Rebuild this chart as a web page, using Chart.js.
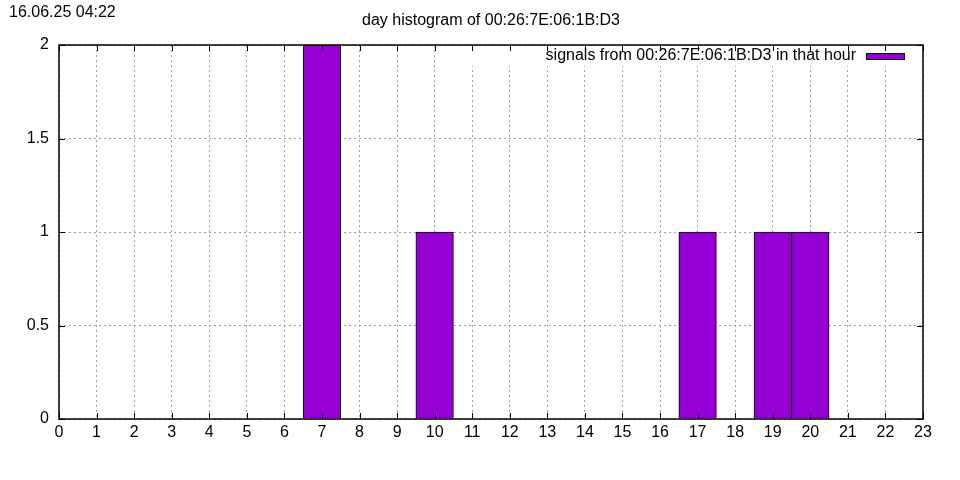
<!DOCTYPE html>
<html>
<head>
<meta charset="utf-8">
<script src="https://cdn.jsdelivr.net/npm/chart.js@4"></script>
<style>
  html, body { margin: 0; padding: 0; background: #fff; }
  #wrap { width: 960px; height: 480px; }
</style>
</head>
<body>
<div id="wrap"><canvas id="grafico" width="960" height="480"></canvas></div>
<script>
const horas = [7, 10, 17, 19, 20];
const senales = [2, 1, 1, 1, 1];
const ticksX = [0, 1, 2, 3, 4, 5, 6, 7, 8, 9, 10, 11, 12, 13, 14, 15, 16, 17, 18, 19, 20, 21, 22, 23];
const ticksY = [0, 0.5, 1, 1.5, 2];
const titulo = 'day histogram of 00:26:7E:06:1B:D3';
const fechaHora = '16.06.25 04:22';
const leyenda = 'signals from 00:26:7E:06:1B:D3 in that hour';
const violeta = '#9400d3';

const fuente = 'Liberation Sans, Arial, sans-serif';

// textos, leyenda, marcas interiores y borde estilo gnuplot
const marcoGnuplot = {
  id: 'marcoGnuplot',
  beforeDatasetsDraw(chart) {
    const ctx = chart.ctx;
    const a = chart.chartArea;
    ctx.save();
    ctx.fillStyle = '#fff';
    ctx.fillRect(462, a.top + 1, a.right - 462 - 1, 20);
    ctx.restore();
  },
  afterDraw(chart) {
    const ctx = chart.ctx;
    const a = chart.chartArea;
    const sx = chart.scales.x;
    const sy = chart.scales.y;
    ctx.save();
    ctx.fillStyle = '#000';
    ctx.font = '16px ' + fuente;
    ctx.textAlign = 'left';
    ctx.textBaseline = 'middle';
    ctx.fillText(fechaHora, 9, 13);
    ctx.textAlign = 'center';
    ctx.fillText(titulo, 491, 21);

    // leyenda
    ctx.textAlign = 'right';
    ctx.fillText(leyenda, 856, 56);
    ctx.fillStyle = violeta;
    ctx.fillRect(866, 53, 39, 7);
    ctx.strokeStyle = '#000';
    ctx.lineWidth = 1;
    ctx.strokeRect(866.5, 53.5, 38, 6);

    // marcas
    ctx.beginPath();
    ticksX.forEach(v => {
      const px = Math.round(sx.getPixelForValue(v)) + 0.5;
      ctx.moveTo(px, a.bottom); ctx.lineTo(px, a.bottom - 6);
      ctx.moveTo(px, a.top); ctx.lineTo(px, a.top + 6);
    });
    ticksY.forEach(v => {
      const py = Math.round(sy.getPixelForValue(v)) + 0.5;
      ctx.moveTo(a.left, py); ctx.lineTo(a.left + 6, py);
      ctx.moveTo(a.right, py); ctx.lineTo(a.right - 6, py);
    });
    ctx.stroke();
    ctx.lineWidth = 1.5;
    ctx.strokeRect(a.left, a.top, a.right - a.left, a.bottom - a.top);
    ctx.restore();
  }
};

const ctx = document.getElementById('grafico').getContext('2d');
new Chart(ctx, {
  type: 'bar',
  data: {
    datasets: [{
      label: leyenda,
      data: horas.map((h, i) => ({ x: h, y: senales[i] })),
      backgroundColor: violeta,
      borderColor: '#000',
      borderWidth: 1,
      barPercentage: 1,
      categoryPercentage: 1
    }]
  },
  options: {
    responsive: false,
    animation: false,
    layout: { padding: { top: 45, right: 37, left: 0, bottom: 0 } },
    plugins: { legend: { display: false }, tooltip: { enabled: false } },
    scales: {
      x: {
        type: 'linear',
        min: 0,
        max: 23,
        offset: false,
        afterBuildTicks: s => { s.ticks = ticksX.map(v => ({ value: v })); },
        afterFit: s => { s.height = 61; },
        ticks: { color: '#000', font: { size: 16, family: fuente }, padding: 4, maxRotation: 0, autoSkip: false },
        grid: { color: '#a0a0a0', lineWidth: 1, drawTicks: false, offset: false },
        border: { display: false, dash: [2, 3] }
      },
      y: {
        min: 0,
        max: 2,
        afterBuildTicks: s => { s.ticks = ticksY.map(v => ({ value: v })); },
        afterFit: s => { s.width = 59; },
        ticks: { color: '#000', font: { size: 16, family: fuente }, padding: 10, callback: v => String(v) },
        grid: { color: '#a0a0a0', lineWidth: 1, drawTicks: false },
        border: { display: false, dash: [2, 3] }
      }
    }
  },
  plugins: [marcoGnuplot]
});
</script>
</body>
</html>
